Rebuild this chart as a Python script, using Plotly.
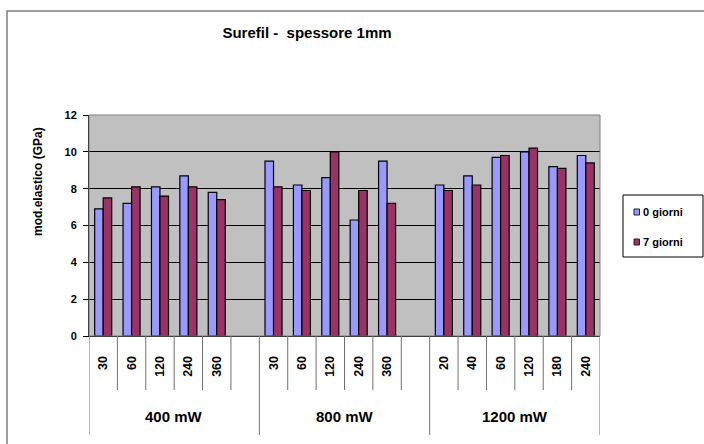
import plotly.graph_objects as go

# ---- data ----
groups = ["400 mW", "800 mW", "1200 mW"]
times_400 = ["30", "60", "120", "240", "360"]
times_800 = ["30", "60", "120", "240", "360"]
times_1200 = ["20", "40", "60", "120", "180", "240"]

g0_400 = [6.9, 7.2, 8.1, 8.7, 7.8]
g7_400 = [7.5, 8.1, 7.6, 8.1, 7.4]
g0_800 = [9.5, 8.2, 8.6, 6.3, 9.5]
g7_800 = [8.1, 7.9, 10.0, 7.9, 7.2]
g0_1200 = [8.2, 8.7, 9.7, 10.0, 9.2, 9.8]
g7_1200 = [7.9, 8.2, 9.8, 10.2, 9.1, 9.4]

series_names = ["0 giorni", "7 giorni"]
series_colors = ["#9999FF", "#993366"]
y_ticks = [0, 2, 4, 6, 8, 10, 12]

# ---- build categorical slots (one empty slot after the first two groups) ----
group_times = [times_400, times_800, times_1200]
group_v0 = [g0_400, g0_800, g0_1200]
group_v7 = [g7_400, g7_800, g7_1200]

cats, ticktext, v0, v7 = [], [], [], []
group_bounds = []
for gi, (g, ts) in enumerate(zip(groups, group_times)):
    start = len(cats)
    for t, a, b in zip(ts, group_v0[gi], group_v7[gi]):
        cats.append(f"{g}|{t}")
        ticktext.append(t)
        v0.append(a)
        v7.append(b)
    if gi < len(groups) - 1:
        cats.append(f"{g}|gap")
        ticktext.append("")
        v0.append(None)
        v7.append(None)
    group_bounds.append((start, len(cats)))

FONT = "Liberation Sans, Arial, sans-serif"
W, H = 704, 444
ML, MR, MT, MB = 89, 104, 115, 108
PW, PH = W - ML - MR, H - MT - MB

fig = go.Figure()
for name, col, vals in zip(series_names, series_colors, [v0, v7]):
    fig.add_trace(go.Bar(x=cats, y=vals, name=name, showlegend=False,
                         marker=dict(color=col, line=dict(color="black", width=1.2))))

def py(pix):  # pixel y -> paper y
    return (MT + PH - pix) / PH

def px(pix):  # pixel x -> paper x
    return (pix - ML) / PW

shapes = []
n = len(cats)
long_b = set()
for s, e in group_bounds:
    long_b.add(s)
    long_b.add(e)
for i in range(n + 1):
    x = i - 0.5
    y1 = py(435) if i in long_b else py(390)
    shapes.append(dict(type="line", xref="x", yref="paper", x0=x, x1=x, y0=0, y1=y1,
                       line=dict(color="#707070", width=1)))
# plot area border
shapes.append(dict(type="rect", xref="paper", yref="paper", x0=0, x1=1, y0=0, y1=1,
                   line=dict(color="#808080", width=1), layer="above"))
# outer chart frame
shapes.append(dict(type="rect", xref="paper", yref="paper",
                   x0=px(7), x1=px(720), y0=py(460), y1=py(11),
                   line=dict(color="#808080", width=1.5)))

annotations = []
for g, (s, e) in zip(groups, group_bounds):
    annotations.append(dict(x=(s + e - 1) / 2, y=py(416), xref="x", yref="paper",
                            text=f"<b>{g}</b>", showarrow=False,
                            font=dict(family=FONT, size=15, color="black"),
                            xanchor="center", yanchor="middle"))
# y axis title
annotations.append(dict(x=px(38), y=py(182), xref="paper", yref="paper",
                        text="<b>mod.elastico (GPa)</b>", textangle=-90, showarrow=False,
                        font=dict(family=FONT, size=12, color="black"),
                        xanchor="center", yanchor="middle"))

# custom legend
shapes.append(dict(type="rect", xref="paper", yref="paper",
                   x0=px(623), x1=px(703), y0=py(257), y1=py(195),
                   line=dict(color="black", width=1), fillcolor="white"))
for k, (name, col) in enumerate(zip(series_names, series_colors)):
    yc = 212 + 30 * k
    shapes.append(dict(type="rect", xref="paper", yref="paper",
                       x0=px(634), x1=px(639.5), y0=py(yc + 3), y1=py(yc - 3),
                       line=dict(color="#222222", width=1), fillcolor=col))
    annotations.append(dict(x=px(641), y=py(yc), xref="paper", yref="paper",
                            text=f"<b>{name}</b>", showarrow=False,
                            font=dict(family=FONT, size=11, color="black"),
                            xanchor="left", yanchor="middle"))

fig.update_layout(
    width=W, height=H,
    margin=dict(l=ML, r=MR, t=MT, b=MB, autoexpand=False),
    paper_bgcolor="white", plot_bgcolor="#C0C0C0",
    barmode="group", bargap=0.4, bargroupgap=0,
    title=dict(text="<b>Surefil -  spessore 1mm</b>", x=307 / W, xref="container",
               xanchor="center", y=1 - 33 / H, yref="container", yanchor="middle",
               font=dict(family=FONT, size=15, color="black")),
    shapes=shapes, annotations=annotations,
    xaxis=dict(type="category", categoryorder="array", categoryarray=cats,
               tickvals=cats, ticktext=[f"<b>{t}</b>" if t else "" for t in ticktext],
               tickangle=-90, ticks="", ticklabelstandoff=14,
               tickfont=dict(family=FONT, size=12.5, color="black"),
               showline=True, linecolor="black", linewidth=1, showgrid=False,
               range=[-0.5, n - 0.5], fixedrange=True),
    yaxis=dict(range=[0, 12], tickvals=y_ticks, ticktext=[f"<b>{v}</b>" for v in y_ticks],
               ticks="outside", ticklen=5, tickcolor="black", ticklabelstandoff=4,
               tickfont=dict(family=FONT, size=11, color="black"),
               showline=True, linecolor="black", linewidth=1,
               showgrid=True, gridcolor="black", gridwidth=1, zeroline=False),
    showlegend=False,
)

fig.write_html("out.html", config={"displayModeBar": False},
               post_script="document.body.style.margin='0';")
